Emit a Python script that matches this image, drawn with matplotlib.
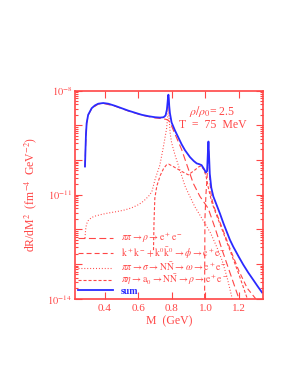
import numpy as np
import matplotlib.pyplot as plt
from matplotlib.ticker import LogLocator, NullFormatter, FixedLocator

plt.rcParams['font.family'] = ['Liberation Serif', 'DejaVu Serif']
plt.rcParams['mathtext.fontset'] = 'stix'
plt.rcParams['lines.scale_dashes'] = False

RED = '#ff4646'
BLUE = '#2a2aff'

# sum of all channels (M in GeV, log10 of dR/dM^2)
m_sum = [0.281, 0.284, 0.287, 0.291, 0.30, 0.321, 0.34, 0.36, 0.39, 0.42, 0.46, 0.50, 0.54,
         0.58, 0.62, 0.66, 0.70, 0.73, 0.750, 0.762, 0.770, 0.774, 0.777, 0.779, 0.781, 0.784,
         0.788, 0.798, 0.818, 0.838, 0.858, 0.878, 0.908, 0.930, 0.948, 0.962, 0.977, 0.990,
         1.003, 1.010, 1.015, 1.018, 1.021, 1.026, 1.035, 1.047, 1.067, 1.087, 1.107,
         1.146, 1.166, 1.200, 1.226, 1.256, 1.286, 1.310, 1.338]
log_sum = [-10.19, -9.70, -9.25, -8.94, -8.70, -8.51, -8.43, -8.38, -8.36, -8.38, -8.44, -8.51,
           -8.58, -8.64, -8.70, -8.74, -8.77, -8.78, -8.77, -8.72, -8.55, -8.35, -8.18, -8.12,
           -8.20, -8.45, -8.65, -8.92, -9.15, -9.35, -9.55, -9.72, -9.92, -10.03, -10.10,
           -10.12, -10.15, -10.25, -10.36, -10.32, -9.75, -9.47, -9.80, -10.40, -10.80, -11.05,
           -11.30, -11.55, -11.82, -12.30, -12.50, -12.80, -13.02, -13.25, -13.46, -13.63, -13.82]

# pi pi -> rho -> e+e-
m_rho = [0.281, 0.284, 0.287, 0.291, 0.30, 0.321, 0.36, 0.39, 0.46, 0.54, 0.62, 0.70, 0.74,
         0.765, 0.78, 0.79, 0.818, 0.858, 0.89, 0.927, 0.967, 1.017, 1.06, 1.10, 1.15, 1.20]
log_rho = [-10.2, -9.71, -9.26, -8.95, -8.71, -8.52, -8.39, -8.37, -8.45, -8.59, -8.71, -8.79,
           -8.81, -8.83, -8.86, -8.93, -9.25, -9.70, -10.15, -10.67, -11.05, -11.40, -12.0,
           -12.6, -13.3, -14.0]

# K+K- + K0K0bar -> phi -> e+e-
m_phi = [0.995, 0.997, 1.003, 1.010, 1.015, 1.018, 1.021, 1.026, 1.035, 1.047, 1.067, 1.087,
         1.107, 1.146, 1.200, 1.250, 1.300]
log_phi = [-14.0, -11.7, -11.0, -10.5, -9.9, -9.55, -9.9, -10.6, -11.05, -11.30, -11.55, -11.80,
           -12.05, -12.55, -13.2, -13.7, -14.0]

# pi pi -> sigma -> N Nbar -> omega -> e+e-
m_omg = [0.281, 0.285, 0.29, 0.30, 0.32, 0.34, 0.38, 0.42, 0.47, 0.52, 0.56, 0.60, 0.63, 0.66,
         0.68, 0.70, 0.728, 0.748, 0.768, 0.775, 0.779, 0.783, 0.790, 0.798, 0.818, 0.848,
         0.878, 0.898, 0.937, 0.987, 1.030, 1.067, 1.100, 1.130, 1.160]
log_omg = [-12.25, -12.0, -11.85, -11.75, -11.66, -11.62, -11.57, -11.53, -11.49, -11.44,
           -11.38, -11.29, -11.19, -11.05, -10.92, -10.55, -10.15, -9.65, -9.10, -8.75, -8.45,
           -8.80, -9.25, -9.50, -9.85, -10.30, -10.75, -10.96, -11.35, -11.75, -12.1, -12.5,
           -12.9, -13.4, -14.0]

# pi eta -> a0 -> N Nbar -> rho -> e+e-
m_a0 = [0.690, 0.693, 0.698, 0.710, 0.730, 0.750, 0.768, 0.780, 0.808, 0.858, 0.898, 0.937,
        0.960, 0.975, 0.990, 1.003, 1.015, 1.027, 1.040, 1.067, 1.107, 1.146, 1.200, 1.250]
log_a0 = [-12.6, -11.8, -11.1, -10.75, -10.45, -10.25, -10.14, -10.12, -10.19, -10.33, -10.43,
          -10.29, -10.20, -10.17, -10.28, -10.45, -10.75, -11.0, -11.25, -11.6, -12.1, -12.6,
          -13.3, -14.0]

fig = plt.figure(figsize=(2.95, 3.82), dpi=100)
ax = fig.add_axes([0.254, 0.218, 0.636, 0.545])

l1, = ax.plot(m_rho, 10.0 ** np.array(log_rho), color=RED, lw=0.8, ls=(0, (5, 2.5)))
l2, = ax.plot(m_phi, 10.0 ** np.array(log_phi), color=RED, lw=0.8, ls=(0, (3.6, 2.2)))
l3, = ax.plot(m_omg, 10.0 ** np.array(log_omg), color=RED, lw=0.8, ls=(0, (0.7, 1.4)))
l4, = ax.plot(m_a0, 10.0 ** np.array(log_a0), color=RED, lw=0.8, ls=(0, (2.2, 1.4)))
l5, = ax.plot(m_sum, 10.0 ** np.array(log_sum), color=BLUE, lw=1.3)

ax.set_yscale('log')
ax.set_xlim(0.221, 1.341)
ax.set_ylim(1e-14, 1e-8)

ax.xaxis.set_major_locator(FixedLocator([0.4, 0.6, 0.8, 1.0, 1.2]))
ax.xaxis.set_major_formatter(plt.FuncFormatter(lambda v, p: f'{v:.1f}'))
ax.yaxis.set_major_locator(LogLocator(base=10, numticks=20))
ax.yaxis.set_minor_locator(LogLocator(base=10, subs=np.arange(2, 10), numticks=20))
ax.yaxis.set_minor_formatter(NullFormatter())
ax.yaxis.set_major_formatter(plt.FuncFormatter(
    lambda v, p: r'$10^{%d}$' % round(np.log10(v)) if round(np.log10(v)) in (-8, -11, -14) else ''))

ax.tick_params(which='both', direction='in', top=True, right=True, colors=RED, labelsize=8,
               width=0.8)
ax.tick_params(which='major', length=5)
ax.tick_params(which='minor', length=2.5)
ax.tick_params(axis='y', which='major', labelsize=7.5, pad=2)
for s in ax.spines.values():
    s.set_color(RED)
    s.set_linewidth(1.2)

ax.set_xlabel('M  (GeV)', color=RED, fontsize=8.5, labelpad=2)
ax.set_ylabel(r'dR/dM$^2$  (fm$^{-4}$  GeV$^{-2}$)', color=RED, fontsize=8.5, labelpad=6)

ax.text(0.733, 0.90, r'$\rho/\rho_0$= 2.5', transform=ax.transAxes, color=RED, fontsize=8.5,
        ha='center', va='center')
ax.text(0.733, 0.835, 'T  =  75  MeV', transform=ax.transAxes, color=RED, fontsize=8.5,
        ha='center', va='center')

labels = [r'$\pi\pi\rightarrow\rho\rightarrow \mathrm{e^+e^-}$',
          r'$\mathrm{k^+k^-}+\mathrm{k^0\bar{k}^0}\rightarrow\phi\rightarrow \mathrm{e^+e^-}$',
          r'$\pi\pi\rightarrow\sigma\rightarrow \mathrm{N\bar{N}}\rightarrow\omega\rightarrow \mathrm{e^+e^-}$',
          r'$\pi\eta\rightarrow \mathrm{a_0}\rightarrow \mathrm{N\bar{N}}\rightarrow\rho\rightarrow \mathrm{e^+e^-}$',
          'sum']
leg = ax.legend([l1, l2, l3, l4, l5], labels, loc='lower left', frameon=False, fontsize=7,
                handlelength=3.6, handletextpad=0.8, labelspacing=-0.05, borderaxespad=0.1,
                borderpad=0.2)
for i, t in enumerate(leg.get_texts()):
    t.set_color(BLUE if i == 4 else RED)
leg.get_texts()[4].set_fontweight('bold')

fig.savefig('out.png', dpi=100)
